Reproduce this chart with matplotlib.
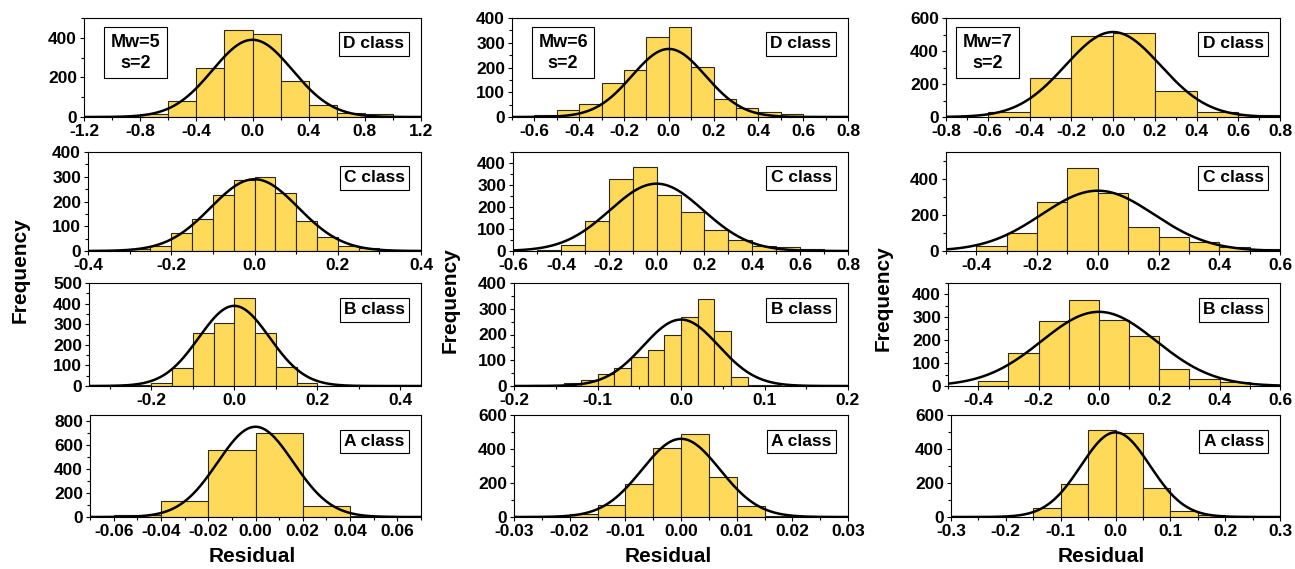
import numpy as np
import matplotlib

matplotlib.use("Agg")
from matplotlib import pyplot as plt
from matplotlib.ticker import AutoMinorLocator, FormatStrFormatter, MultipleLocator

plt.rcParams["font.family"] = ["Liberation Sans", "DejaVu Sans"]
plt.rcParams["font.weight"] = "bold"
plt.rcParams["axes.unicode_minus"] = False

# histogram counts per class; bins start at *_start and are *_width wide
D5_start, D5_width = -0.8, 0.2
D5_counts = [15, 80, 250, 440, 418, 182, 62, 18, 15]
D6_start, D6_width = -0.6, 0.1
D6_counts = [8, 30, 52, 137, 190, 322, 365, 201, 74, 36, 20, 11, 4, 5]
D7_start, D7_width = -0.6, 0.2
D7_counts = [30, 238, 490, 512, 160, 32, 12]

C5_start, C5_width = -0.3, 0.05
C5_counts = [10, 20, 72, 130, 228, 285, 297, 233, 120, 57, 22, 14]
C6_start, C6_width = -0.5, 0.1
C6_counts = [3, 28, 135, 328, 380, 253, 177, 95, 50, 22, 16, 8]
C7_start, C7_width = -0.4, 0.1
C7_counts = [28, 98, 272, 462, 325, 135, 80, 50, 25, 10]

B5_start, B5_width = -0.3, 0.05
B5_counts = [5, 6, 13, 89, 258, 306, 429, 258, 92, 16, 2]
B6_start, B6_width = -0.18, 0.02
B6_counts = [4, 4, 10, 22, 45, 70, 111, 139, 200, 268, 337, 214, 36, 5, 2]
B7_start, B7_width = -0.4, 0.1
B7_counts = [22, 144, 286, 374, 287, 220, 75, 32, 19]

A5_start, A5_width = -0.06, 0.02
A5_counts = [20, 131, 557, 696, 95, 8]
A6_start, A6_width = -0.02, 0.005
A6_counts = [18, 68, 192, 405, 490, 238, 63, 5]
A7_start, A7_width = -0.15, 0.05
A7_counts = [55, 193, 512, 492, 173, 35, 12, 5]

# normal fit per panel: (peak height, sigma), centred on zero
D5_fit = (390, 0.285)
D6_fit = (275, 0.164)
D7_fit = (515, 0.228)
C5_fit = (290, 0.105)
C6_fit = (306, 0.195)
C7_fit = (335, 0.185)
B5_fit = (389, 0.085)
B6_fit = (258, 0.045)
B7_fit = (324, 0.19)
A5_fit = (752, 0.016)
A6_fit = (460, 0.007)
A7_fit = (498, 0.063)

magnitudes = ["Mw=5", "Mw=6", "Mw=7"]
class_labels = ["D class", "C class", "B class", "A class"]

rows = [
    [(D5_start, D5_width, D5_counts, D5_fit), (D6_start, D6_width, D6_counts, D6_fit), (D7_start, D7_width, D7_counts, D7_fit)],
    [(C5_start, C5_width, C5_counts, C5_fit), (C6_start, C6_width, C6_counts, C6_fit), (C7_start, C7_width, C7_counts, C7_fit)],
    [(B5_start, B5_width, B5_counts, B5_fit), (B6_start, B6_width, B6_counts, B6_fit), (B7_start, B7_width, B7_counts, B7_fit)],
    [(A5_start, A5_width, A5_counts, A5_fit), (A6_start, A6_width, A6_counts, A6_fit), (A7_start, A7_width, A7_counts, A7_fit)],
]

# axis ranges: (xmin, xmax, xstep, xfmt, ymax, ystep)
axis_specs = [
    [(-1.2, 1.2, 0.4, "%.1f", 500, 200), (-0.7, 0.8, 0.2, "%.1f", 400, 100), (-0.8, 0.8, 0.2, "%.1f", 600, 200)],
    [(-0.4, 0.4, 0.2, "%.1f", 400, 100), (-0.6, 0.8, 0.2, "%.1f", 450, 100), (-0.5, 0.6, 0.2, "%.1f", 550, 200)],
    [(-0.35, 0.45, 0.2, "%.1f", 500, 100), (-0.2, 0.2, 0.1, "%.1f", 400, 100), (-0.5, 0.6, 0.2, "%.1f", 450, 100)],
    [(-0.07, 0.07, 0.02, "%.2f", 850, 200), (-0.03, 0.03, 0.01, "%.2f", 600, 200), (-0.3, 0.3, 0.1, "%.1f", 600, 200)],
]

W, H = 1295, 569
row_tb = [(18, 117), (152, 251), (283, 386), (415, 517)]
col_left = [[84, 512, 946], [88, 513, 946], [89, 514, 948], [90, 514, 951]]
col_right = [421, 848, 1280]
mw_box_x = [0.153, 0.152, 0.124]

fig = plt.figure(figsize=(W / 100, H / 100), dpi=100)

for r, row in enumerate(rows):
    top, bottom = row_tb[r]
    for c, (start, width, counts, fit) in enumerate(row):
        left, right = col_left[r][c], col_right[c]
        ax = fig.add_axes([left / W, 1 - bottom / H, (right - left) / W, (bottom - top) / H])
        xmin, xmax, xstep, xfmt, ymax, ystep = axis_specs[r][c]

        lefts = start + width * np.arange(len(counts))
        ax.bar(lefts, counts, width=width, align="edge", color="#FFD95A",
               edgecolor="#2a2a1a", linewidth=0.8, zorder=2)

        peak, sigma = fit
        xs = np.linspace(xmin, xmax, 400)
        ax.plot(xs, peak * np.exp(-xs ** 2 / (2 * sigma ** 2)), color="black", lw=1.8, zorder=3)

        ax.set_xlim(xmin, xmax)
        ax.set_ylim(0, ymax)
        ax.xaxis.set_major_locator(MultipleLocator(xstep))
        ax.xaxis.set_minor_locator(AutoMinorLocator(2))
        ax.xaxis.set_major_formatter(FormatStrFormatter(xfmt))
        ax.yaxis.set_major_locator(MultipleLocator(ystep))
        ax.yaxis.set_minor_locator(AutoMinorLocator(2))
        ax.tick_params(which="both", direction="out", labelsize=12.5, pad=2, width=0.8)
        ax.tick_params(which="major", length=3)
        ax.tick_params(which="minor", length=2)
        for lab in ax.get_xticklabels() + ax.get_yticklabels():
            lab.set_fontweight("bold")
        for spine in ax.spines.values():
            spine.set_linewidth(0.8)

        ax.text(0.86, 0.74, class_labels[r], transform=ax.transAxes, ha="center", va="center",
                fontsize=12.5, fontweight="bold", zorder=5,
                bbox=dict(boxstyle="square,pad=0.25", fc="white", ec="black", lw=0.8))
        if r == 0:
            ax.text(mw_box_x[c], 0.65, f"{magnitudes[c]}\ns=2", transform=ax.transAxes,
                    ha="center", va="center", fontsize=13, fontweight="bold", linespacing=1.3,
                    zorder=5, bbox=dict(boxstyle="square,pad=0.35", fc="white", ec="black", lw=0.8))

for x, y in [(20, 270), (450, 300), (883, 298)]:
    fig.text(x / W, 1 - y / H, "Frequency", rotation=90, ha="center", va="center",
             fontsize=15, fontweight="bold")
for x in [252, 668, 1101]:
    fig.text(x / W, 1 - 556 / H, "Residual", ha="center", va="center", fontsize=15, fontweight="bold")

fig.savefig("out.png", dpi=100)
